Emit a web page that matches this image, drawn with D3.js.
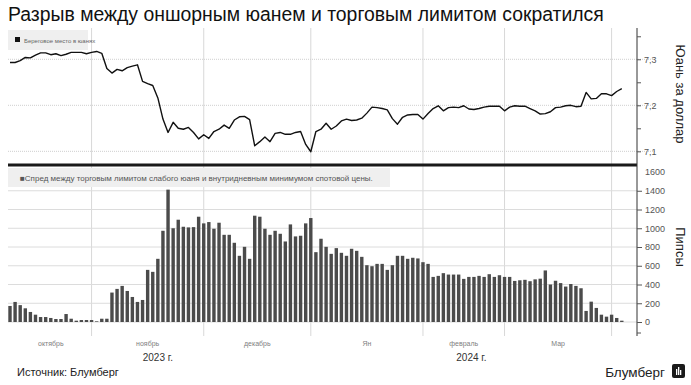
<!DOCTYPE html>
<html lang="ru">
<head>
<meta charset="UTF-8">
<title>spread</title>
<style>
  body { margin: 0; background: #fff; }
  svg { display: block; font-family: "Liberation Sans", Arial, sans-serif; }
</style>
</head>
<body>
<div id="chart"></div>
<script src="https://d3js.org/d3.v7.min.js"></script>
<script>
// onshore yuan per dollar, daily
const rate = [
  7.293, 7.293, 7.297, 7.304, 7.303, 7.309, 7.314, 7.314, 7.310, 7.312,
  7.308, 7.311, 7.315, 7.315, 7.315, 7.312, 7.315, 7.317, 7.313, 7.280,
  7.270, 7.278, 7.275, 7.282, 7.285, 7.288, 7.252, 7.247, 7.243, 7.216,
  7.170, 7.141, 7.163, 7.150, 7.148, 7.152, 7.141, 7.127, 7.136, 7.128,
  7.143, 7.148, 7.157, 7.150, 7.168, 7.175, 7.176, 7.169, 7.112, 7.121,
  7.131, 7.121, 7.139, 7.141, 7.137, 7.137, 7.141, 7.143, 7.115, 7.099,
  7.143, 7.148, 7.161, 7.148, 7.155, 7.166, 7.170, 7.167, 7.168, 7.172,
  7.183, 7.196, 7.195, 7.193, 7.190, 7.171, 7.159, 7.174, 7.179, 7.180,
  7.180, 7.170, 7.182, 7.193, 7.199, 7.188, 7.195, 7.196, 7.195, 7.199,
  7.192, 7.191, 7.193, 7.196, 7.198, 7.198, 7.198, 7.188, 7.196, 7.199,
  7.198, 7.198, 7.193, 7.188, 7.181, 7.182, 7.186, 7.195, 7.196, 7.199,
  7.200, 7.197, 7.198, 7.228, 7.214, 7.215, 7.225, 7.225, 7.221, 7.230,
  7.236
]
// spread in pips
const spread = [
  171, 214, 180, 146, 107, 78, 53, 53, 43, 32, 32, 85, 35, 14, 21, 21, 21, 7, 35, 35,
  314, 353, 385, 331, 267, 214, 235, 556, 535, 674, 973, 1412, 1000,
  1091, 1016, 1009, 1012, 1123, 1052, 1066, 995, 1059, 930, 930, 845, 706, 802, 674,
  1134, 1123, 995, 930, 973, 941, 859, 1041, 913, 920, 1052, 1109, 745, 888, 802, 727, 788, 738,
  706, 781, 759, 695, 606, 595, 620, 620, 556, 606, 706, 706, 674, 685, 678, 638, 620,
  481, 492, 521, 506, 506, 506, 460, 481, 481, 492, 481, 510, 481, 499, 481, 481, 438,
  445, 450, 435, 455, 462, 550, 400, 440, 415, 378, 405, 385, 360,
  118, 217, 150, 78, 57, 78, 43, 14
]
const monthLabels = ['октябрь', 'ноябрь', 'декабрь', 'Ян', 'февраль', 'Мар']
const monthStarts = [16, 38, 59, 81, 97, 118]   // day index where each next month begins
const yearLabels = ['2023 г.', '2024 г.']
const yearPos = [29, 90.5]
const rateTicks = [7.1, 7.2, 7.3]
const rateMinor = [7.15, 7.25, 7.35]
const pipTicks = [0, 200, 400, 600, 800, 1000, 1200, 1400, 1600]

const W = 691, H = 385
const left = 8, axisX = 637
const svg = d3.select('#chart').append('svg').attr('width', W).attr('height', H)

const x = d3.scaleLinear().domain([0, rate.length - 1]).range([10, 621.8])
const yRate = d3.scaleLinear().domain([7.0746, 7.368]).range([163, 28])
const yPip = d3.scaleLinear().domain([0, 1600]).range([322, 172])

// title
svg.append('text').attr('x', left).attr('y', 21)
  .attr('font-size', 19.4).attr('fill', '#111')
  .text('Разрыв между оншорным юанем и торговым лимитом сократился')

// vertical gridlines (month boundaries)
const grid = svg.append('g')
grid.selectAll('.vg').data(monthStarts).enter().append('line')
  .attr('x1', d => x(d)).attr('x2', d => x(d))
  .attr('y1', 28).attr('y2', 336)
  .attr('stroke', '#d8d8d8').attr('stroke-width', 1)

// top panel horizontal grid
grid.selectAll('.hr').data(rateTicks).enter().append('line')
  .attr('x1', left).attr('x2', 656)
  .attr('y1', d => yRate(d)).attr('y2', d => yRate(d))
  .attr('stroke', '#cfcfcf').attr('stroke-dasharray', '1,1')

// bottom panel horizontal grid
grid.selectAll('.hp').data(pipTicks.slice(0, 8)).enter().append('line')
  .attr('x1', left).attr('x2', axisX)
  .attr('y1', d => yPip(d)).attr('y2', d => yPip(d))
  .attr('stroke', '#dcdcdc')

// legends
const lg1 = svg.append('g')
lg1.append('rect').attr('x', left).attr('y', 30).attr('width', 80).attr('height', 20).attr('fill', '#efefef')
lg1.append('rect').attr('x', 15).attr('y', 37).attr('width', 5).attr('height', 5).attr('fill', '#111')
lg1.append('text').attr('x', 24).attr('y', 42.5).attr('font-size', 6).attr('fill', '#666')
  .text('Береговое место в юанях')

const lg2 = svg.append('g')
lg2.append('rect').attr('x', left).attr('y', 168).attr('width', 382).attr('height', 19).attr('fill', '#efefef')
lg2.append('text').attr('x', 20).attr('y', 180.5).attr('font-size', 8).attr('fill', '#555')
  .text('■Спред между торговым лимитом слабого юаня и внутридневным минимумом спотовой цены.')

// bars
svg.append('g').selectAll('rect').data(spread).enter().append('rect')
  .attr('x', (d, i) => x(i) - 1.7)
  .attr('width', 3.4)
  .attr('y', d => yPip(d))
  .attr('height', d => yPip(0) - yPip(d))
  .attr('fill', '#4b4b4b')

// line
const line = d3.line().x((d, i) => x(i)).y(d => yRate(d))
svg.append('path').datum(rate).attr('d', line)
  .attr('fill', 'none').attr('stroke', '#111').attr('stroke-width', 1.4)
  .attr('stroke-linejoin', 'round')

// separator
svg.append('line').attr('x1', left).attr('x2', axisX).attr('y1', 165).attr('y2', 165)
  .attr('stroke', '#1a1a1a').attr('stroke-width', 3)

// right axes
svg.append('line').attr('x1', axisX).attr('x2', axisX).attr('y1', 28).attr('y2', 336)
  .attr('stroke', '#333')

const rAxis = d3.axisRight(yRate).tickValues(rateTicks).tickSize(4)
  .tickFormat(d => d3.format('.1f')(d).replace('.', ','))
const gr = svg.append('g').attr('transform', `translate(${axisX},0)`).call(rAxis)
gr.select('.domain').remove()
gr.selectAll('text').attr('font-size', 9).attr('fill', '#555').attr('x', 7)
gr.selectAll('line').attr('stroke', '#555')
svg.append('g').attr('transform', `translate(${axisX},0)`)
  .call(d3.axisRight(yRate).tickValues(rateMinor).tickSize(4).tickFormat(''))
  .call(g => g.select('.domain').remove())
  .selectAll('line').attr('stroke', '#555')

const pAxis = d3.axisRight(yPip).tickValues(pipTicks).tickSize(5).tickFormat(d3.format('d'))
const gp = svg.append('g').attr('transform', `translate(${axisX},0)`).call(pAxis)
gp.select('.domain').remove()
gp.selectAll('text').attr('font-size', 9).attr('fill', '#555').attr('x', 8)
gp.selectAll('line').attr('stroke', '#555')
gp.selectAll('.tick').filter(d => d === 1600).select('line').remove()
svg.append('line').attr('x1', axisX).attr('x2', axisX + 4).attr('y1', 333).attr('y2', 333).attr('stroke', '#555')

// axis titles
svg.append('text').attr('transform', 'translate(676,94) rotate(90)')
  .attr('text-anchor', 'middle').attr('font-size', 13).attr('fill', '#222')
  .text('Юань за доллар')
svg.append('text').attr('transform', 'translate(676,247) rotate(90)')
  .attr('text-anchor', 'middle').attr('font-size', 13).attr('fill', '#222')
  .text('Пипсы')

// month labels
const bounds = [0].concat(monthStarts)
svg.append('g').selectAll('text').data(monthLabels).enter().append('text')
  .attr('x', (d, i) => x((bounds[i] + bounds[i + 1]) / 2))
  .attr('y', 346).attr('text-anchor', 'middle')
  .attr('font-size', 7).attr('fill', '#808080')
  .text(d => d)

svg.append('g').selectAll('text').data(yearLabels).enter().append('text')
  .attr('x', (d, i) => x(yearPos[i])).attr('y', 361).attr('text-anchor', 'middle')
  .attr('font-size', 10).attr('fill', '#333')
  .text(d => d)

// footer
svg.append('text').attr('x', 17).attr('y', 376).attr('font-size', 11).attr('fill', '#222')
  .text('Источник: Блумберг')
svg.append('text').attr('x', 665).attr('y', 377).attr('text-anchor', 'end')
  .attr('font-size', 13.5).attr('fill', '#222').text('Блумберг')
const logo = svg.append('g').attr('transform', 'translate(672,364)')
logo.append('rect').attr('width', 13).attr('height', 14).attr('rx', 2).attr('fill', '#1a1a1a')
logo.selectAll('.b').data([[4, 5, 6], [6, 3, 8], [8, 6, 5]]).enter().append('rect')
  .attr('x', d => d[0]).attr('y', d => d[1]).attr('width', 1.3).attr('height', d => d[2])
  .attr('fill', '#fff')
</script>
</body>
</html>
